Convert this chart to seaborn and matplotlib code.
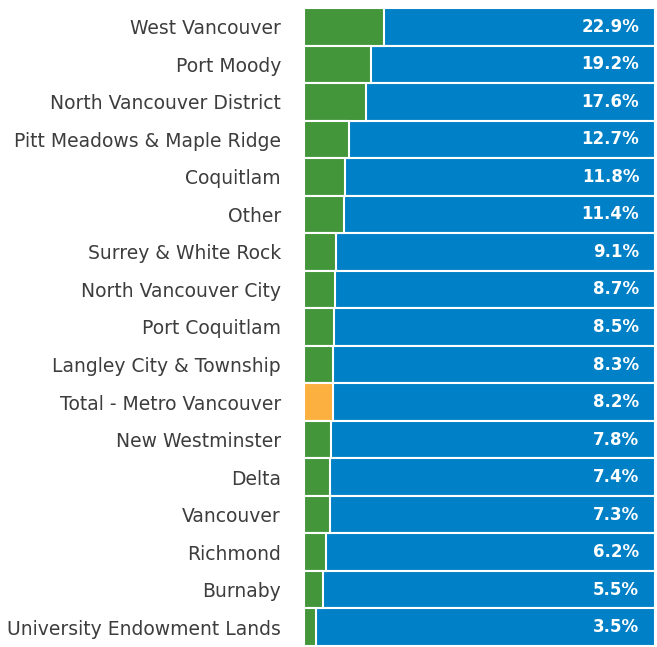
import matplotlib
matplotlib.use("Agg")
import matplotlib.pyplot as plt
import seaborn as sns
import pandas as pd

regions = ["West Vancouver", "Port Moody", "North Vancouver District",
           "Pitt Meadows & Maple Ridge", "Coquitlam", "Other",
           "Surrey & White Rock", "North Vancouver City", "Port Coquitlam",
           "Langley City & Township", "Total - Metro Vancouver",
           "New Westminster", "Delta", "Vancouver", "Richmond", "Burnaby",
           "University Endowment Lands"]
values = [22.9, 19.2, 17.6, 12.7, 11.8, 11.4, 9.1, 8.7, 8.5, 8.3, 8.2,
          7.8, 7.4, 7.3, 6.2, 5.5, 3.5]

GREEN = "#43963a"
BLUE = "#0080c6"
ORANGE = "#fbb040"

df = pd.DataFrame({"region": regions, "value": values})
df["total"] = 100.0
colors = [ORANGE if r.startswith("Total") else GREEN for r in regions]

sns.set_style("white")
plt.rcParams['font.family'] = ['DejaVu Sans']

fig = plt.figure(figsize=(6.57, 6.47), dpi=100)
ax = fig.add_axes([304 / 657, 1 - 646 / 647, 351 / 657, 638 / 647])

# blue = full 100% background, green/orange = share on top
sns.barplot(data=df, y="region", x="total", color=BLUE, width=1.0,
            saturation=1, edgecolor="white", linewidth=1.5, ax=ax, orient="h")
sns.barplot(data=df, y="region", x="value", hue="region", palette=colors,
            saturation=1, legend=False, width=1.0, edgecolor="white",
            linewidth=1.5, ax=ax, orient="h")

for i, v in enumerate(values):
    ax.text(95.5, i, f"{v:.1f}%", ha="right", va="center", color="white",
            fontsize=12, fontweight="bold")

ax.set_xlim(0, 100)
ax.set_ylim(len(regions) - 0.5, -0.5)
ax.set_xlabel("")
ax.set_ylabel("")
ax.set_xticks([])
ax.tick_params(axis="y", length=0, pad=16.5, labelsize=13.5, labelcolor="#3d3d3d")
sns.despine(ax=ax, left=True, bottom=True)

fig.savefig("out.png", dpi=100)
